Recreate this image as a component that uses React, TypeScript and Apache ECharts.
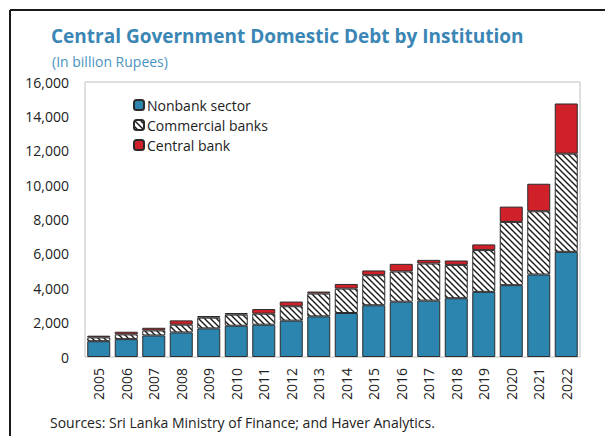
import React, { useEffect, useRef } from "react";
import * as echarts from "echarts";

const years = ["2005","2006","2007","2008","2009","2010","2011","2012","2013","2014","2015","2016","2017","2018","2019","2020","2021","2022"];
const nonbank = [920, 1040, 1255, 1430, 1665, 1820, 1880, 2115, 2365, 2560, 3010, 3220, 3280, 3420, 3790, 4180, 4800, 6120];
const commercial = [220, 275, 290, 450, 625, 645, 640, 835, 1325, 1420, 1750, 1755, 2160, 1940, 2430, 3680, 3680, 5710];
const central = [100, 155, 155, 250, 95, 95, 270, 275, 117, 270, 275, 445, 210, 255, 330, 890, 1600, 2920];
const yTicks = [0, 2000, 4000, 6000, 8000, 10000, 12000, 14000, 16000];

function makeHatch(): HTMLCanvasElement {
  const c = document.createElement("canvas");
  const s = 6;
  c.width = s;
  c.height = s;
  const ctx = c.getContext("2d")!;
  ctx.fillStyle = "#ffffff";
  ctx.fillRect(0, 0, s, s);
  ctx.strokeStyle = "#1a1a1a";
  ctx.lineWidth = 1.4;
  ctx.beginPath();
  ctx.moveTo(-1, -1);
  ctx.lineTo(s + 1, s + 1);
  ctx.moveTo(-1, s - 1);
  ctx.lineTo(1, s + 1);
  ctx.moveTo(s - 1, -1);
  ctx.lineTo(s + 1, 1);
  ctx.stroke();
  return c;
}

export default function App() {
  const ref = useRef<HTMLDivElement>(null);
  useEffect(() => {
    const chart = echarts.init(ref.current!, null, { renderer: "svg" });
    const hatch = makeHatch();
    const font = "'Open Sans', 'Noto Sans', sans-serif";
    const border = { borderColor: "#2b2b2b", borderWidth: 1 };
    chart.setOption({
      animation: false,
      textStyle: { fontFamily: font },
      title: [
        {
          text: "Central Government Domestic Debt by Institution",
          left: 46,
          top: 21,
          textStyle: { fontSize: 19, fontWeight: "bold", color: "#3a86b4", fontFamily: font },
        },
        {
          text: "(In billion Rupees)",
          left: 47,
          top: 49,
          textStyle: { fontSize: 14, fontWeight: "normal", color: "#4a93bf", fontFamily: font },
        },
      ],
      graphic: [
        { type: "line", shape: { x1: 10, y1: 10, x2: 605, y2: 10 }, style: { stroke: "#1a1a1a", lineWidth: 2 } },
        { type: "line", shape: { x1: 10, y1: 10, x2: 10, y2: 436 }, style: { stroke: "#1a1a1a", lineWidth: 2 } },
        {
          type: "text",
          left: 50,
          top: 415,
          style: {
            text: "Sources: Sri Lanka Ministry of Finance; and Haver Analytics.",
            fontSize: 14,
            fontFamily: font,
            fill: "#222",
          },
        },
      ],
      legend: {
        orient: "vertical",
        left: 128,
        top: 93,
        itemWidth: 10,
        itemHeight: 10,
        itemGap: 6,
        textStyle: { fontSize: 14, color: "#222", padding: [0, 0, 0, -2] },
        data: ["Nonbank sector", "Commercial banks", "Central bank"],
      },
      grid: {
        left: 85,
        right: 25,
        top: 82,
        bottom: 79,
        show: true,
        borderColor: "#bfbfbf",
        borderWidth: 1,
      },
      xAxis: {
        type: "category",
        data: years,
        axisLine: { show: false },
        axisTick: { show: false },
        axisLabel: { rotate: 90, fontSize: 14, color: "#222", margin: 11 },
      },
      yAxis: {
        type: "value",
        min: yTicks[0],
        max: yTicks[yTicks.length - 1],
        interval: 2000,
        splitLine: { show: false },
        axisLine: { show: false },
        axisTick: { show: false },
        axisLabel: {
          fontSize: 14,
          color: "#222",
          margin: 16,
          formatter: (v: number) => v.toLocaleString("en-US"),
        },
      },
      series: [
        {
          name: "Nonbank sector",
          type: "bar",
          stack: "debt",
          barWidth: 23,
          data: nonbank,
          itemStyle: { color: "#2b85ae", ...border },
        },
        {
          name: "Commercial banks",
          type: "bar",
          stack: "debt",
          barWidth: 23,
          data: commercial,
          itemStyle: { color: { image: hatch, repeat: "repeat" }, ...border },
        },
        {
          name: "Central bank",
          type: "bar",
          stack: "debt",
          barWidth: 23,
          data: central,
          itemStyle: { color: "#d0202a", ...border },
        },
      ],
    });
    return () => chart.dispose();
  }, []);
  return <div ref={ref} style={{ width: 605, height: 436, position: "absolute", left: 0, top: 0 }} />;
}
